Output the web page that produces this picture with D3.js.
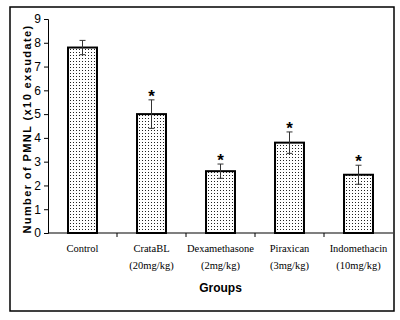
<!DOCTYPE html>
<html lang="en">
<head>
<meta charset="utf-8">
<title>PMNL groups</title>
<script src="https://cdn.jsdelivr.net/npm/d3@7"></script>
<style>
  body { margin: 0; background: #fff; }
  .ytick text { font-family: "Liberation Sans", Arial, sans-serif; font-size: 12px; fill: #000; }
  .xlab { font-family: "Liberation Serif", "Times New Roman", serif; font-size: 10.5px; fill: #000; }
  .title { font-family: "Liberation Sans", Arial, sans-serif; font-weight: bold; fill: #000; }
</style>
</head>
<body>
<script>
var w = 400, h = 320;

// data
var groups = ["Control", "CrataBL", "Dexamethasone", "Piraxican", "Indomethacin"];
var doses = ["", "(20mg/kg)", "(2mg/kg)", "(3mg/kg)", "(10mg/kg)"];
var means = [7.8, 5.0, 2.6, 3.8, 2.45];
var errs = [0.3, 0.6, 0.3, 0.45, 0.4];
var starred = [false, true, true, true, true];
var yTicks = [0, 1, 2, 3, 4, 5, 6, 7, 8, 9];

var pLeft = 48, pRight = 393, pTop = 19, pBottom = 233;

var svg = d3.select("body").append("svg")
  .attr("width", w).attr("height", h);

// dotted fill
var pat = svg.append("defs").append("pattern")
  .attr("id", "dots")
  .attr("patternUnits", "userSpaceOnUse")
  .attr("width", 3).attr("height", 3);
pat.append("rect").attr("width", 3).attr("height", 3).attr("fill", "#fff");
pat.append("rect").attr("x", 1).attr("y", 1).attr("width", 1).attr("height", 1).attr("fill", "#222");

// outer frame
svg.append("rect")
  .attr("x", 10).attr("y", 7).attr("width", 384).attr("height", 304)
  .attr("fill", "none").attr("stroke", "#000").attr("stroke-width", 1.5);

var x = d3.scaleBand().domain(d3.range(groups.length)).range([pLeft, pRight]);
var y = d3.scaleLinear().domain([0, 9]).range([pBottom, pTop]);

// y axis
var yAxis = svg.append("g").attr("class", "ytick")
  .attr("transform", "translate(" + pLeft + ",0)")
  .call(d3.axisLeft(y).tickValues(yTicks).tickSize(4).tickPadding(3).tickFormat(d3.format("d")));
yAxis.select(".domain").attr("stroke", "#000");

// x axis line + ticks at band edges
svg.append("line")
  .attr("x1", pLeft).attr("x2", pRight).attr("y1", pBottom).attr("y2", pBottom)
  .attr("stroke", "#000").attr("stroke-width", 1.2);
svg.selectAll(".xt").data(d3.range(1, groups.length)).enter().append("line")
  .attr("x1", function(i) { return x(i); })
  .attr("x2", function(i) { return x(i); })
  .attr("y1", pBottom).attr("y2", pBottom + 4)
  .attr("stroke", "#000");

var bw = x.bandwidth() * 0.42;
function cx(i) { return x(i) + x.bandwidth() / 2; }

// bars
svg.selectAll(".bar").data(means).enter().append("rect")
  .attr("x", function(d, i) { return cx(i) - bw / 2; })
  .attr("y", function(d) { return y(d); })
  .attr("width", bw)
  .attr("height", function(d) { return pBottom - y(d); })
  .attr("fill", "url(#dots)")
  .attr("stroke", "#000").attr("stroke-width", 2);

// error bars
var eb = svg.selectAll(".err").data(means).enter().append("g")
  .attr("stroke", "#333").attr("stroke-width", 1);
eb.append("line")
  .attr("x1", function(d, i) { return cx(i); })
  .attr("x2", function(d, i) { return cx(i); })
  .attr("y1", function(d, i) { return y(d - errs[i]); })
  .attr("y2", function(d, i) { return y(d + errs[i]); });
[1, -1].forEach(function(s) {
  eb.append("line")
    .attr("x1", function(d, i) { return cx(i) - 3; })
    .attr("x2", function(d, i) { return cx(i) + 3; })
    .attr("y1", function(d, i) { return y(d + s * errs[i]); })
    .attr("y2", function(d, i) { return y(d + s * errs[i]); });
});

// significance stars
means.forEach(function(d, i) {
  if (!starred[i]) return;
  svg.append("text")
    .attr("x", cx(i))
    .attr("y", y(d + errs[i]) + 2)
    .attr("text-anchor", "middle")
    .style("font-family", "Liberation Sans, Arial, sans-serif")
    .style("font-size", "17px")
    .style("font-weight", "bold")
    .text("*");
});

// x labels
groups.forEach(function(g, i) {
  svg.append("text").attr("class", "xlab").attr("x", cx(i)).attr("y", 252)
    .attr("text-anchor", "middle").text(g);
  if (doses[i]) {
    svg.append("text").attr("class", "xlab").attr("x", cx(i)).attr("y", 269)
      .attr("text-anchor", "middle").text(doses[i]);
  }
});

// axis titles
svg.append("text").attr("class", "title")
  .attr("x", (pLeft + pRight) / 2).attr("y", 292)
  .attr("text-anchor", "middle").style("font-size", "12px")
  .text("Groups");

svg.append("text").attr("class", "title")
  .attr("transform", "translate(31,129) rotate(-90)")
  .attr("text-anchor", "middle")
  .style("font-size", "11px").style("letter-spacing", "1.4px")
  .text("Number of PMNL (x10 exsudate)");
</script>
</body>
</html>
